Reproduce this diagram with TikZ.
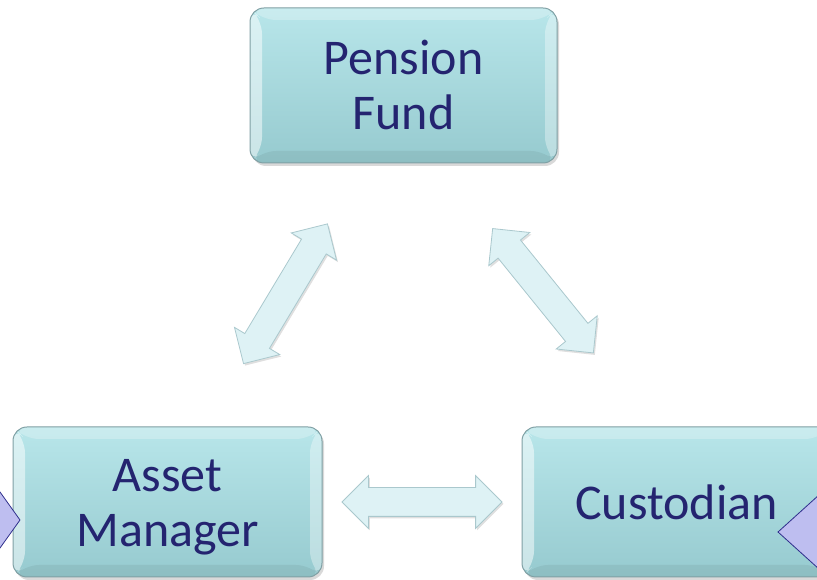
\documentclass[tikz,border=0pt]{standalone}
\usepackage{fontspec}
\setmainfont{Carlito}
\usetikzlibrary{calc,shapes.arrows,shadows}

\definecolor{boxtop}{RGB}{184,230,234}
\definecolor{boxbot}{RGB}{150,202,207}
\definecolor{boxline}{RGB}{128,160,164}
\definecolor{boxtext}{RGB}{36,36,112}
\definecolor{arrfill}{RGB}{222,242,245}
\definecolor{arrline}{RGB}{170,200,205}
\definecolor{trifill}{RGB}{190,190,240}
\definecolor{triline}{RGB}{46,46,140}

\begin{document}
\begin{tikzpicture}[x=1pt, y=1pt,
    box/.style={draw=boxline, line width=1pt, rounded corners=14pt,
        top color=boxtop, bottom color=boxbot,
        drop shadow={opacity=.3, shadow xshift=2pt, shadow yshift=-3pt},
        minimum width=307pt, minimum height=155pt, inner sep=0pt,
        align=center, text=boxtext, font=\fontsize{50}{55}\selectfont,
        path picture={
            \path (path picture bounding box.south west) coordinate (ppa)
                  (path picture bounding box.north east) coordinate (ppb);
            \fill[white, opacity=.5] (ppa) -- ([shift={(12pt,12pt)}]ppa)
                -- ([shift={(12pt,-12pt)}]ppa|-ppb) -- (ppa|-ppb) -- cycle;
            \fill[white, opacity=.25] (ppa|-ppb) -- ([shift={(12pt,-12pt)}]ppa|-ppb)
                -- ([shift={(-12pt,-12pt)}]ppb) -- (ppb) -- cycle;
            \fill[white, opacity=.35] (ppb) -- ([shift={(-12pt,-12pt)}]ppb)
                -- ([shift={(-12pt,12pt)}]ppb|-ppa) -- (ppb|-ppa) -- cycle;
            \fill[black, opacity=.06] (ppa) -- ([shift={(12pt,12pt)}]ppa)
                -- ([shift={(-12pt,12pt)}]ppb|-ppa) -- (ppb|-ppa) -- cycle;
        }},
    dblarrow/.style={double arrow, draw=arrline, line width=.8pt, fill=arrfill,
        inner xsep=0pt, inner ysep=14pt, double arrow head extend=12pt,
        double arrow tip angle=90,
        drop shadow={opacity=.25, shadow xshift=1.5pt, shadow yshift=-2pt}},
    tri/.style={draw=triline, line width=.8pt, fill=trifill}]
    \useasboundingbox (0,0) rectangle (817,580);

    \node[box] (pf) at (403.5,494.5)
        {\raisebox{-6pt}[\height][\depth]{\begin{tabular}{@{}c@{}}Pension\\Fund\end{tabular}}};
    \node[box, minimum width=309pt, minimum height=150pt] (am) at (167.5,78)
        {\raisebox{-6pt}[\height][\depth]{\begin{tabular}{@{}c@{}}Asset\\Manager\end{tabular}}};
    \node[box, minimum width=309pt, minimum height=150pt] (cu) at (676.5,78) {Custodian};

    \node[dblarrow, rotate=59, minimum height=163pt] (pfam) at ($(pf)!.5!(am)$) {};
    \node[dblarrow, rotate=-51, minimum height=160pt] (pfcu) at ($(pf)!.5!(cu)+(3,3)$) {};
    \node[dblarrow, minimum height=160pt] (amcu) at ($(am)!.5!(cu)$) {};

    % side markers
    \filldraw[tri] (20,60) -- (-10,102) -- (-10,18) -- cycle;
    \filldraw[tri] (778,48) -- (830,95) -- (830,1) -- cycle;
\end{tikzpicture}
\end{document}
